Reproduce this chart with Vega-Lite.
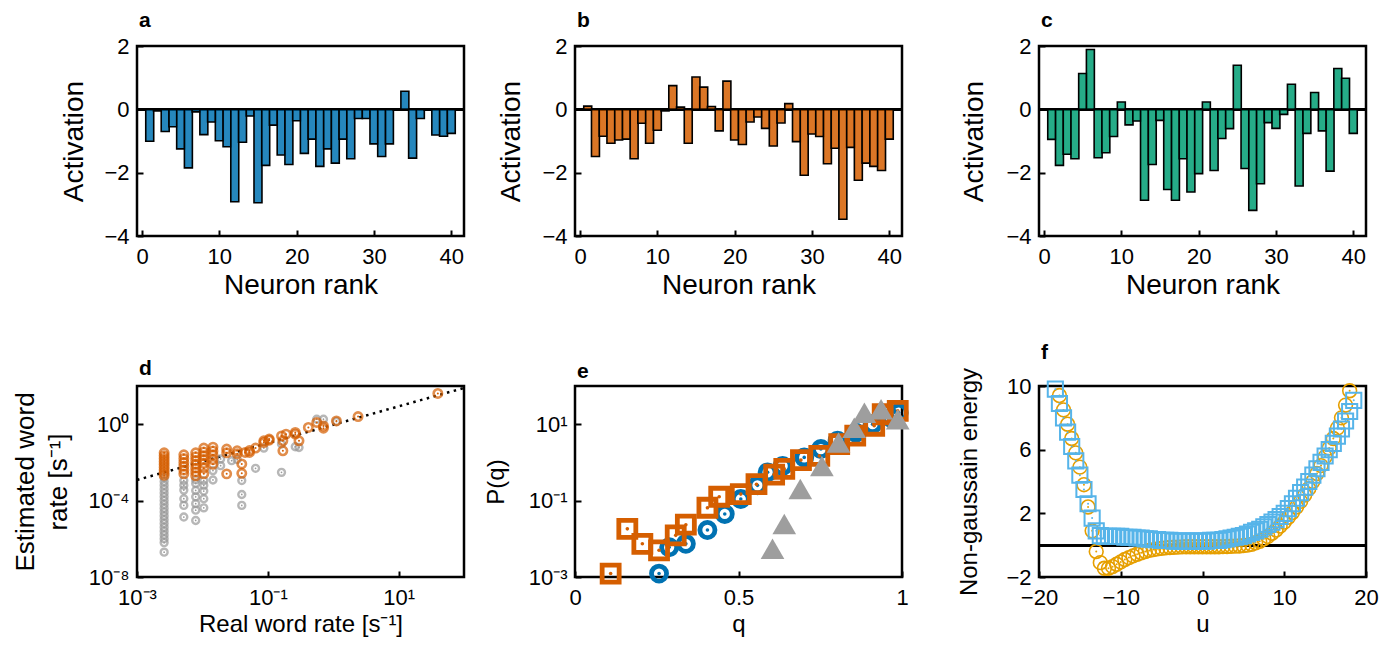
{
  "$schema": "https://vega.github.io/schema/vega-lite/v6.json",
  "padding": {"left": 10, "top": 8, "right": 5, "bottom": 5},
  "background": "white",
  "config": {
    "font": "Liberation Sans",
    "view": {"stroke": "black", "strokeWidth": 2.5},
    "axis": {"grid": false, "domain": false, "tickColor": "black", "tickWidth": 2, "tickSize": -6, "labelFontSize": 22, "labelColor": "black", "titleFontSize": 24, "titleFontWeight": "normal", "titleColor": "black", "labelFlush": false, "labelOverlap": false, "titleBaseline": "middle"},
    "axisX": {"labelPadding": 16, "titleY": 47},
    "axisY": {"labelPadding": 14},
    "title": {"fontSize": 21, "fontWeight": "bold", "anchor": "start", "frame": "group", "color": "black", "offset": 0, "dx": 2}
  },
  "datasets": {
    "barsA": [
      {"rank": 1, "activation": -1.01}, {"rank": 2, "activation": -0.05}, {"rank": 3, "activation": -0.70}, {"rank": 4, "activation": -0.55}, {"rank": 5, "activation": -1.25},
      {"rank": 6, "activation": -1.85}, {"rank": 7, "activation": -0.08}, {"rank": 8, "activation": -0.80}, {"rank": 9, "activation": -0.40}, {"rank": 10, "activation": -0.99},
      {"rank": 11, "activation": -1.18}, {"rank": 12, "activation": -2.92}, {"rank": 13, "activation": -1.04}, {"rank": 14, "activation": -0.21}, {"rank": 15, "activation": -2.95},
      {"rank": 16, "activation": -1.77}, {"rank": 17, "activation": -0.50}, {"rank": 18, "activation": -1.44}, {"rank": 19, "activation": -1.74}, {"rank": 20, "activation": -0.36},
      {"rank": 21, "activation": -1.39}, {"rank": 22, "activation": -0.94}, {"rank": 23, "activation": -1.80}, {"rank": 24, "activation": -1.25}, {"rank": 25, "activation": -1.70},
      {"rank": 26, "activation": -0.94}, {"rank": 27, "activation": -1.56}, {"rank": 28, "activation": -0.29}, {"rank": 29, "activation": -0.29}, {"rank": 30, "activation": -1.09},
      {"rank": 31, "activation": -1.49}, {"rank": 32, "activation": -1.09}, {"rank": 33, "activation": -0.02}, {"rank": 34, "activation": 0.57}, {"rank": 35, "activation": -1.54},
      {"rank": 36, "activation": -0.29}, {"rank": 37, "activation": -0.02}, {"rank": 38, "activation": -0.81}, {"rank": 39, "activation": -0.85}, {"rank": 40, "activation": -0.76}
    ],
    "barsB": [
      {"rank": 1, "activation": 0.10}, {"rank": 2, "activation": -1.49}, {"rank": 3, "activation": -0.85}, {"rank": 4, "activation": -1.07}, {"rank": 5, "activation": -0.97},
      {"rank": 6, "activation": -0.94}, {"rank": 7, "activation": -1.56}, {"rank": 8, "activation": -0.44}, {"rank": 9, "activation": -1.07}, {"rank": 10, "activation": -0.66},
      {"rank": 11, "activation": -0.05}, {"rank": 12, "activation": 0.75}, {"rank": 13, "activation": 0.07}, {"rank": 14, "activation": -1.07}, {"rank": 15, "activation": 1.02},
      {"rank": 16, "activation": 0.70}, {"rank": 17, "activation": 0.09}, {"rank": 18, "activation": -0.68}, {"rank": 19, "activation": 0.89}, {"rank": 20, "activation": -0.97},
      {"rank": 21, "activation": -1.11}, {"rank": 22, "activation": -0.40}, {"rank": 23, "activation": -0.24}, {"rank": 24, "activation": -0.60}, {"rank": 25, "activation": -1.16},
      {"rank": 26, "activation": -0.43}, {"rank": 27, "activation": 0.18}, {"rank": 28, "activation": -1.02}, {"rank": 29, "activation": -2.08}, {"rank": 30, "activation": -0.78},
      {"rank": 31, "activation": -0.86}, {"rank": 32, "activation": -1.72}, {"rank": 33, "activation": -1.23}, {"rank": 34, "activation": -3.47}, {"rank": 35, "activation": -1.20},
      {"rank": 36, "activation": -2.24}, {"rank": 37, "activation": -1.70}, {"rank": 38, "activation": -1.80}, {"rank": 39, "activation": -1.93}, {"rank": 40, "activation": -0.94}
    ],
    "barsC": [
      {"rank": 1, "activation": -0.95}, {"rank": 2, "activation": -1.77}, {"rank": 3, "activation": -1.42}, {"rank": 4, "activation": -1.56}, {"rank": 5, "activation": 1.13},
      {"rank": 6, "activation": 1.89}, {"rank": 7, "activation": -1.53}, {"rank": 8, "activation": -1.37}, {"rank": 9, "activation": -0.86}, {"rank": 10, "activation": 0.23},
      {"rank": 11, "activation": -0.49}, {"rank": 12, "activation": -0.37}, {"rank": 13, "activation": -2.87}, {"rank": 14, "activation": -1.74}, {"rank": 15, "activation": -0.35},
      {"rank": 16, "activation": -2.53}, {"rank": 17, "activation": -2.87}, {"rank": 18, "activation": -1.56}, {"rank": 19, "activation": -2.61}, {"rank": 20, "activation": -2.03},
      {"rank": 21, "activation": 0.23}, {"rank": 22, "activation": -1.93}, {"rank": 23, "activation": -0.92}, {"rank": 24, "activation": -0.61}, {"rank": 25, "activation": 1.39},
      {"rank": 26, "activation": -1.87}, {"rank": 27, "activation": -3.19}, {"rank": 28, "activation": -2.35}, {"rank": 29, "activation": -0.42}, {"rank": 30, "activation": -0.60},
      {"rank": 31, "activation": -0.16}, {"rank": 32, "activation": 0.79}, {"rank": 33, "activation": -2.42}, {"rank": 34, "activation": -0.76}, {"rank": 35, "activation": 0.53},
      {"rank": 36, "activation": -0.68}, {"rank": 37, "activation": -1.95}, {"rank": 38, "activation": 1.29}, {"rank": 39, "activation": 0.98}, {"rank": 40, "activation": -0.76}
    ],
    "diag": [{"real": 0.001, "estimated": 0.0012}, {"real": 100, "estimated": 79}],
    "words": [
      {"real": 0.0026, "estimated": 1.58e-3, "group": "all"}, {"real": 0.0026, "estimated": 1.0e-3, "group": "all"}, {"real": 0.0026, "estimated": 6.31e-4, "group": "all"},
      {"real": 0.0026, "estimated": 3.98e-4, "group": "all"}, {"real": 0.0026, "estimated": 2.51e-4, "group": "all"}, {"real": 0.0026, "estimated": 1.58e-4, "group": "all"},
      {"real": 0.0026, "estimated": 1.0e-4, "group": "all"}, {"real": 0.0026, "estimated": 6.31e-5, "group": "all"}, {"real": 0.0026, "estimated": 3.98e-5, "group": "all"},
      {"real": 0.0026, "estimated": 2.51e-5, "group": "all"}, {"real": 0.0026, "estimated": 1.58e-5, "group": "all"}, {"real": 0.0026, "estimated": 1.0e-5, "group": "all"},
      {"real": 0.0026, "estimated": 6.31e-6, "group": "all"}, {"real": 0.0026, "estimated": 3.98e-6, "group": "all"}, {"real": 0.0026, "estimated": 2.51e-6, "group": "all"},
      {"real": 0.0026, "estimated": 1.58e-6, "group": "all"}, {"real": 0.0026, "estimated": 1.0e-6, "group": "all"}, {"real": 0.0026, "estimated": 6.31e-7, "group": "all"},
      {"real": 0.0026, "estimated": 2.0e-7, "group": "all"},
      {"real": 0.0052, "estimated": 1.12e-3, "group": "all"}, {"real": 0.0052, "estimated": 6.31e-4, "group": "all"}, {"real": 0.0052, "estimated": 3.55e-4, "group": "all"},
      {"real": 0.0052, "estimated": 1.26e-4, "group": "all"}, {"real": 0.0052, "estimated": 5.62e-5, "group": "all"}, {"real": 0.0052, "estimated": 1.38e-5, "group": "all"},
      {"real": 0.0079, "estimated": 1.26e-3, "group": "all"}, {"real": 0.0079, "estimated": 7.94e-4, "group": "all"}, {"real": 0.0079, "estimated": 3.39e-4, "group": "all"},
      {"real": 0.0079, "estimated": 1.58e-4, "group": "all"}, {"real": 0.0079, "estimated": 6.92e-5, "group": "all"}, {"real": 0.0079, "estimated": 3.16e-5, "group": "all"},
      {"real": 0.0079, "estimated": 9.12e-6, "group": "all"},
      {"real": 0.0105, "estimated": 1.12e-3, "group": "all"}, {"real": 0.0105, "estimated": 6.31e-4, "group": "all"}, {"real": 0.0105, "estimated": 3.16e-4, "group": "all"},
      {"real": 0.0105, "estimated": 1.26e-4, "group": "all"}, {"real": 0.0105, "estimated": 4.17e-5, "group": "all"},
      {"real": 0.0145, "estimated": 3.72e-3, "group": "all"}, {"real": 0.0145, "estimated": 1.2e-3, "group": "all"},
      {"real": 0.019, "estimated": 1.51e-2, "group": "all"}, {"real": 0.019, "estimated": 6.76e-3, "group": "all"},
      {"real": 0.028, "estimated": 1.23e-2, "group": "all"}, {"real": 0.034, "estimated": 1.41e-2, "group": "all"},
      {"real": 0.040, "estimated": 1.12e-3, "group": "all"}, {"real": 0.040, "estimated": 2.09e-4, "group": "all"}, {"real": 0.040, "estimated": 5.62e-5, "group": "all"},
      {"real": 0.065, "estimated": 4.9e-3, "group": "all"}, {"real": 0.087, "estimated": 5.62e-2, "group": "all"},
      {"real": 0.162, "estimated": 3.02e-3, "group": "all"}, {"real": 0.162, "estimated": 9.12e-2, "group": "all"},
      {"real": 0.263, "estimated": 6.61e-2, "group": "all"}, {"real": 0.30, "estimated": 6.03e-2, "group": "all"},
      {"real": 0.56, "estimated": 1.82, "group": "all"}, {"real": 0.71, "estimated": 1.82, "group": "all"}, {"real": 1.12, "estimated": 1.38, "group": "all"},
      {"real": 0.0026, "estimated": 3.16e-2, "group": "selected"}, {"real": 0.0026, "estimated": 2.24e-2, "group": "selected"}, {"real": 0.0026, "estimated": 1.58e-2, "group": "selected"},
      {"real": 0.0026, "estimated": 1.12e-2, "group": "selected"}, {"real": 0.0026, "estimated": 7.94e-3, "group": "selected"}, {"real": 0.0026, "estimated": 5.62e-3, "group": "selected"},
      {"real": 0.0026, "estimated": 3.98e-3, "group": "selected"}, {"real": 0.0026, "estimated": 2.82e-3, "group": "selected"}, {"real": 0.0026, "estimated": 2.09e-3, "group": "selected"},
      {"real": 0.0052, "estimated": 2.51e-2, "group": "selected"}, {"real": 0.0052, "estimated": 1.58e-2, "group": "selected"}, {"real": 0.0052, "estimated": 1.0e-2, "group": "selected"},
      {"real": 0.0052, "estimated": 6.31e-3, "group": "selected"}, {"real": 0.0052, "estimated": 3.98e-3, "group": "selected"}, {"real": 0.0052, "estimated": 2.51e-3, "group": "selected"},
      {"real": 0.0079, "estimated": 3.16e-2, "group": "selected"}, {"real": 0.0079, "estimated": 2.0e-2, "group": "selected"}, {"real": 0.0079, "estimated": 1.26e-2, "group": "selected"},
      {"real": 0.0079, "estimated": 7.94e-3, "group": "selected"}, {"real": 0.0079, "estimated": 5.01e-3, "group": "selected"}, {"real": 0.0079, "estimated": 3.16e-3, "group": "selected"},
      {"real": 0.0079, "estimated": 2.0e-3, "group": "selected"},
      {"real": 0.0105, "estimated": 5.62e-2, "group": "selected"}, {"real": 0.0105, "estimated": 3.55e-2, "group": "selected"}, {"real": 0.0105, "estimated": 2.24e-2, "group": "selected"},
      {"real": 0.0105, "estimated": 1.41e-2, "group": "selected"}, {"real": 0.0105, "estimated": 8.91e-3, "group": "selected"}, {"real": 0.0105, "estimated": 5.01e-3, "group": "selected"},
      {"real": 0.0105, "estimated": 2.51e-3, "group": "selected"},
      {"real": 0.0145, "estimated": 6.31e-2, "group": "selected"}, {"real": 0.0145, "estimated": 3.98e-2, "group": "selected"}, {"real": 0.0145, "estimated": 2.51e-2, "group": "selected"},
      {"real": 0.0145, "estimated": 1.41e-2, "group": "selected"}, {"real": 0.0145, "estimated": 7.94e-3, "group": "selected"},
      {"real": 0.0235, "estimated": 5.01e-2, "group": "selected"}, {"real": 0.0235, "estimated": 3.16e-2, "group": "selected"}, {"real": 0.0235, "estimated": 2.51e-3, "group": "selected"},
      {"real": 0.034, "estimated": 4.07e-2, "group": "selected"}, {"real": 0.034, "estimated": 2.82e-2, "group": "selected"},
      {"real": 0.040, "estimated": 8.32e-3, "group": "selected"}, {"real": 0.040, "estimated": 2.69e-3, "group": "selected"},
      {"real": 0.045, "estimated": 3.31e-2, "group": "selected"}, {"real": 0.0525, "estimated": 3.31e-2, "group": "selected"}, {"real": 0.0525, "estimated": 4.17e-2, "group": "selected"},
      {"real": 0.065, "estimated": 5.62e-2, "group": "selected"},
      {"real": 0.087, "estimated": 0.135, "group": "selected"}, {"real": 0.087, "estimated": 0.110, "group": "selected"},
      {"real": 0.105, "estimated": 0.166, "group": "selected"}, {"real": 0.105, "estimated": 0.145, "group": "selected"},
      {"real": 0.162, "estimated": 0.245, "group": "selected"}, {"real": 0.17, "estimated": 4.07e-2, "group": "selected"}, {"real": 0.17, "estimated": 0.135, "group": "selected"},
      {"real": 0.19, "estimated": 0.302, "group": "selected"},
      {"real": 0.263, "estimated": 0.372, "group": "selected"}, {"real": 0.263, "estimated": 0.302, "group": "selected"}, {"real": 0.30, "estimated": 0.135, "group": "selected"},
      {"real": 0.417, "estimated": 0.676, "group": "selected"}, {"real": 0.56, "estimated": 1.23, "group": "selected"},
      {"real": 0.71, "estimated": 0.813, "group": "selected"}, {"real": 0.71, "estimated": 0.617, "group": "selected"},
      {"real": 1.12, "estimated": 1.48, "group": "selected"}, {"real": 2.4, "estimated": 2.51, "group": "selected"}, {"real": 39.8, "estimated": 40.7, "group": "selected"}
    ],
    "overlap": [
      {"q": 0.257, "P": 1.23e-3, "series": "circle"}, {"q": 0.288, "P": 6.0e-3, "series": "circle"}, {"q": 0.339, "P": 7.4e-3, "series": "circle"},
      {"q": 0.405, "P": 1.7e-2, "series": "circle"}, {"q": 0.458, "P": 4.47e-2, "series": "circle"}, {"q": 0.507, "P": 0.11, "series": "circle"},
      {"q": 0.558, "P": 0.251, "series": "circle"}, {"q": 0.589, "P": 0.55, "series": "circle"}, {"q": 0.635, "P": 0.81, "series": "circle"},
      {"q": 0.701, "P": 1.35, "series": "circle"}, {"q": 0.752, "P": 2.24, "series": "circle"}, {"q": 0.803, "P": 3.72, "series": "circle"},
      {"q": 0.859, "P": 6.0, "series": "circle"}, {"q": 0.910, "P": 10.0, "series": "circle"}, {"q": 0.966, "P": 14.8, "series": "circle"},
      {"q": 0.990, "P": 20.0, "series": "circle"},
      {"q": 0.109, "P": 1.23e-3, "series": "square"}, {"q": 0.160, "P": 1.82e-2, "series": "square"}, {"q": 0.206, "P": 7.4e-3, "series": "square"},
      {"q": 0.257, "P": 5.0e-3, "series": "square"}, {"q": 0.308, "P": 1.23e-2, "series": "square"}, {"q": 0.339, "P": 2.34e-2, "series": "square"},
      {"q": 0.405, "P": 6.5e-2, "series": "square"}, {"q": 0.441, "P": 0.126, "series": "square"}, {"q": 0.507, "P": 0.148, "series": "square"},
      {"q": 0.555, "P": 0.269, "series": "square"}, {"q": 0.609, "P": 0.479, "series": "square"}, {"q": 0.640, "P": 0.676, "series": "square"},
      {"q": 0.691, "P": 1.15, "series": "square"}, {"q": 0.747, "P": 1.48, "series": "square"}, {"q": 0.808, "P": 3.02, "series": "square"},
      {"q": 0.857, "P": 5.01, "series": "square"}, {"q": 0.915, "P": 9.12, "series": "square"}, {"q": 0.941, "P": 18.2, "series": "square"},
      {"q": 0.987, "P": 22.4, "series": "square"},
      {"q": 0.604, "P": 5.5e-3, "series": "triangle"}, {"q": 0.640, "P": 2.45e-2, "series": "triangle"}, {"q": 0.689, "P": 0.2, "series": "triangle"},
      {"q": 0.755, "P": 0.81, "series": "triangle"}, {"q": 0.806, "P": 3.3, "series": "triangle"}, {"q": 0.854, "P": 8.1, "series": "triangle"},
      {"q": 0.885, "P": 20.0, "series": "triangle"}, {"q": 0.936, "P": 24.5, "series": "triangle"}, {"q": 0.987, "P": 13.5, "series": "triangle"}
    ],
    "energy": [
      {"u": -17.5, "energy": 9.4, "series": "circle"}, {"u": -17, "energy": 8.5, "series": "circle"}, {"u": -16.5, "energy": 7.6, "series": "circle"},
      {"u": -16, "energy": 6.7, "series": "circle"}, {"u": -15.5, "energy": 5.8, "series": "circle"}, {"u": -15, "energy": 4.9, "series": "circle"},
      {"u": -14.5, "energy": 3.8, "series": "circle"}, {"u": -14, "energy": 2.4, "series": "circle"}, {"u": -13.5, "energy": 0.9, "series": "circle"},
      {"u": -13, "energy": -0.4, "series": "circle"}, {"u": -12.5, "energy": -1.1, "series": "circle"}, {"u": -12, "energy": -1.45, "series": "circle"},
      {"u": -11.5, "energy": -1.45, "series": "circle"}, {"u": -11, "energy": -1.35, "series": "circle"}, {"u": -10.5, "energy": -1.2, "series": "circle"},
      {"u": -10, "energy": -1.05, "series": "circle"}, {"u": -9.5, "energy": -0.9, "series": "circle"}, {"u": -9, "energy": -0.78, "series": "circle"},
      {"u": -8.5, "energy": -0.67, "series": "circle"}, {"u": -8, "energy": -0.57, "series": "circle"}, {"u": -7.5, "energy": -0.48, "series": "circle"},
      {"u": -7, "energy": -0.4, "series": "circle"}, {"u": -6.5, "energy": -0.33, "series": "circle"}, {"u": -6, "energy": -0.28, "series": "circle"},
      {"u": -5.5, "energy": -0.23, "series": "circle"}, {"u": -5, "energy": -0.2, "series": "circle"}, {"u": -4.5, "energy": -0.17, "series": "circle"},
      {"u": -4, "energy": -0.15, "series": "circle"}, {"u": -3.5, "energy": -0.13, "series": "circle"}, {"u": -3, "energy": -0.12, "series": "circle"},
      {"u": -2.5, "energy": -0.11, "series": "circle"}, {"u": -2, "energy": -0.1, "series": "circle"}, {"u": -1.5, "energy": -0.1, "series": "circle"},
      {"u": -1, "energy": -0.1, "series": "circle"}, {"u": -0.5, "energy": -0.1, "series": "circle"}, {"u": 0, "energy": -0.1, "series": "circle"},
      {"u": 0.5, "energy": -0.1, "series": "circle"}, {"u": 1, "energy": -0.1, "series": "circle"}, {"u": 1.5, "energy": -0.1, "series": "circle"},
      {"u": 2, "energy": -0.1, "series": "circle"}, {"u": 2.5, "energy": -0.09, "series": "circle"}, {"u": 3, "energy": -0.08, "series": "circle"},
      {"u": 3.5, "energy": -0.07, "series": "circle"}, {"u": 4, "energy": -0.06, "series": "circle"}, {"u": 4.5, "energy": -0.05, "series": "circle"},
      {"u": 5, "energy": -0.03, "series": "circle"}, {"u": 5.5, "energy": 0.0, "series": "circle"}, {"u": 6, "energy": 0.05, "series": "circle"},
      {"u": 6.5, "energy": 0.15, "series": "circle"}, {"u": 7, "energy": 0.25, "series": "circle"}, {"u": 7.5, "energy": 0.4, "series": "circle"},
      {"u": 8, "energy": 0.55, "series": "circle"}, {"u": 8.5, "energy": 0.75, "series": "circle"}, {"u": 9, "energy": 0.95, "series": "circle"},
      {"u": 9.5, "energy": 1.2, "series": "circle"}, {"u": 10, "energy": 1.45, "series": "circle"}, {"u": 10.5, "energy": 1.75, "series": "circle"},
      {"u": 11, "energy": 2.05, "series": "circle"}, {"u": 11.5, "energy": 2.4, "series": "circle"}, {"u": 12, "energy": 2.75, "series": "circle"},
      {"u": 12.5, "energy": 3.15, "series": "circle"}, {"u": 13, "energy": 3.55, "series": "circle"}, {"u": 13.5, "energy": 4.0, "series": "circle"},
      {"u": 14, "energy": 4.5, "series": "circle"}, {"u": 14.5, "energy": 5.0, "series": "circle"}, {"u": 15, "energy": 5.55, "series": "circle"},
      {"u": 15.5, "energy": 6.1, "series": "circle"}, {"u": 16, "energy": 6.7, "series": "circle"}, {"u": 16.5, "energy": 7.35, "series": "circle"},
      {"u": 17, "energy": 8.0, "series": "circle"}, {"u": 17.5, "energy": 8.8, "series": "circle"}, {"u": 18, "energy": 9.7, "series": "circle"},
      {"u": -18, "energy": 9.8, "series": "square"}, {"u": -17.5, "energy": 8.9, "series": "square"}, {"u": -17, "energy": 8.0, "series": "square"},
      {"u": -16.5, "energy": 7.1, "series": "square"}, {"u": -16, "energy": 6.2, "series": "square"}, {"u": -15.5, "energy": 5.3, "series": "square"},
      {"u": -15, "energy": 4.4, "series": "square"}, {"u": -14.5, "energy": 3.5, "series": "square"}, {"u": -14, "energy": 2.6, "series": "square"},
      {"u": -13.5, "energy": 1.7, "series": "square"}, {"u": -13, "energy": 0.9, "series": "square"}, {"u": -12.5, "energy": 0.6, "series": "square"},
      {"u": -12, "energy": 0.55, "series": "square"}, {"u": -11.5, "energy": 0.55, "series": "square"}, {"u": -11, "energy": 0.55, "series": "square"},
      {"u": -10.5, "energy": 0.55, "series": "square"}, {"u": -10, "energy": 0.55, "series": "square"}, {"u": -9.5, "energy": 0.5, "series": "square"},
      {"u": -9, "energy": 0.5, "series": "square"}, {"u": -8.5, "energy": 0.5, "series": "square"}, {"u": -8, "energy": 0.45, "series": "square"},
      {"u": -7.5, "energy": 0.45, "series": "square"}, {"u": -7, "energy": 0.4, "series": "square"}, {"u": -6.5, "energy": 0.4, "series": "square"},
      {"u": -6, "energy": 0.35, "series": "square"}, {"u": -5.5, "energy": 0.35, "series": "square"}, {"u": -5, "energy": 0.3, "series": "square"},
      {"u": -4.5, "energy": 0.3, "series": "square"}, {"u": -4, "energy": 0.3, "series": "square"}, {"u": -3.5, "energy": 0.25, "series": "square"},
      {"u": -3, "energy": 0.25, "series": "square"}, {"u": -2.5, "energy": 0.25, "series": "square"}, {"u": -2, "energy": 0.25, "series": "square"},
      {"u": -1.5, "energy": 0.25, "series": "square"}, {"u": -1, "energy": 0.25, "series": "square"}, {"u": -0.5, "energy": 0.25, "series": "square"},
      {"u": 0, "energy": 0.25, "series": "square"}, {"u": 0.5, "energy": 0.25, "series": "square"}, {"u": 1, "energy": 0.3, "series": "square"},
      {"u": 1.5, "energy": 0.3, "series": "square"}, {"u": 2, "energy": 0.3, "series": "square"}, {"u": 2.5, "energy": 0.35, "series": "square"},
      {"u": 3, "energy": 0.4, "series": "square"}, {"u": 3.5, "energy": 0.45, "series": "square"}, {"u": 4, "energy": 0.5, "series": "square"},
      {"u": 4.5, "energy": 0.55, "series": "square"}, {"u": 5, "energy": 0.6, "series": "square"}, {"u": 5.5, "energy": 0.7, "series": "square"},
      {"u": 6, "energy": 0.8, "series": "square"}, {"u": 6.5, "energy": 0.9, "series": "square"}, {"u": 7, "energy": 1.0, "series": "square"},
      {"u": 7.5, "energy": 1.15, "series": "square"}, {"u": 8, "energy": 1.3, "series": "square"}, {"u": 8.5, "energy": 1.45, "series": "square"},
      {"u": 9, "energy": 1.6, "series": "square"}, {"u": 9.5, "energy": 1.8, "series": "square"}, {"u": 10, "energy": 2.0, "series": "square"},
      {"u": 10.5, "energy": 2.3, "series": "square"}, {"u": 11, "energy": 2.6, "series": "square"}, {"u": 11.5, "energy": 2.95, "series": "square"},
      {"u": 12, "energy": 3.3, "series": "square"}, {"u": 12.5, "energy": 3.65, "series": "square"}, {"u": 13, "energy": 4.0, "series": "square"},
      {"u": 13.5, "energy": 4.4, "series": "square"}, {"u": 14, "energy": 4.8, "series": "square"}, {"u": 14.5, "energy": 5.2, "series": "square"},
      {"u": 15, "energy": 5.6, "series": "square"}, {"u": 15.5, "energy": 6.0, "series": "square"}, {"u": 16, "energy": 6.4, "series": "square"},
      {"u": 16.5, "energy": 6.85, "series": "square"}, {"u": 17, "energy": 7.3, "series": "square"}, {"u": 17.5, "energy": 7.8, "series": "square"},
      {"u": 18, "energy": 8.4, "series": "square"}, {"u": 18.5, "energy": 9.1, "series": "square"}
    ]
  },
  "spacing": 37,
  "hconcat": [
    {
      "columns": 2,
      "bounds": "flush",
      "spacing": {"column": 111, "row": 150},
      "concat": [
        {
          "width": 327, "height": 190,
          "title": {"text": "a"},
          "data": {"name": "barsA"},
          "layer": [
            {"mark": {"type": "rule", "color": "black", "strokeWidth": 2}, "encoding": {"y": {"datum": 0, "type": "quantitative"}}},
            {"mark": {"type": "bar", "width": 7.97, "fill": "#0072B2", "fillOpacity": 0.85, "stroke": "black", "strokeWidth": 1.6},
             "encoding": {
               "x": {"field": "rank", "type": "quantitative", "scale": {"domain": [0, 41], "nice": false}, "axis": {"values": [0, 10, 20, 30, 40], "title": "Neuron rank", "titleFontSize": 28, "titleY": 49}},
               "y": {"field": "activation", "type": "quantitative", "scale": {"domain": [-4, 2], "nice": false}, "axis": {"values": [-4, -2, 0, 2], "title": "Activation", "titleFontSize": 28, "titleX": -63}}
             }}
          ]
        },
        {
          "width": 327, "height": 190,
          "title": {"text": "b"},
          "data": {"name": "barsB"},
          "layer": [
            {"mark": {"type": "rule", "color": "black", "strokeWidth": 2}, "encoding": {"y": {"datum": 0, "type": "quantitative"}}},
            {"mark": {"type": "bar", "width": 7.97, "fill": "#D55E00", "fillOpacity": 0.85, "stroke": "black", "strokeWidth": 1.6},
             "encoding": {
               "x": {"field": "rank", "type": "quantitative", "scale": {"domain": [0, 41], "nice": false}, "axis": {"values": [0, 10, 20, 30, 40], "title": "Neuron rank", "titleFontSize": 28, "titleY": 49}},
               "y": {"field": "activation", "type": "quantitative", "scale": {"domain": [-4, 2], "nice": false}, "axis": {"values": [-4, -2, 0, 2], "title": "Activation", "titleFontSize": 28, "titleX": -64}}
             }}
          ]
        },
        {
          "width": 327, "height": 191,
          "title": {"text": "d"},
          "layer": [
            {"data": {"name": "diag"},
             "mark": {"type": "line", "color": "black", "strokeWidth": 2.5, "strokeDash": [2.5, 4.5]},
             "encoding": {
               "x": {"field": "real", "type": "quantitative", "scale": {"type": "log", "domain": [0.001, 100], "nice": false},
                     "axis": {"values": [0.001, 0.1, 10], "title": "Real word rate [s⁻¹]", "labelExpr": "'10' + (round(log(datum.value)/LN10) < 0 ? '⁻' : '') + ['⁰','¹','²','³','⁴','⁵','⁶','⁷','⁸','⁹'][abs(round(log(datum.value)/LN10))]"}},
               "y": {"field": "estimated", "type": "quantitative", "scale": {"type": "log", "domain": [1e-8, 100], "nice": false},
                     "axis": {"values": [1e-8, 0.0001, 1], "title": ["Estimated word", "rate [s⁻¹]"], "titleFontSize": 26, "titleX": -112, "titleLineHeight": 33, "labelExpr": "'10' + (round(log(datum.value)/LN10) < 0 ? '⁻' : '') + ['⁰','¹','²','³','⁴','⁵','⁶','⁷','⁸','⁹'][abs(round(log(datum.value)/LN10))]"}}
             }},
            {"data": {"name": "words"}, "transform": [{"filter": "datum.group == 'all'"}],
             "mark": {"type": "point", "shape": "circle", "filled": false, "stroke": "#999999", "strokeWidth": 2.4, "size": 48},
             "encoding": {"x": {"field": "real", "type": "quantitative"}, "y": {"field": "estimated", "type": "quantitative"}}},
            {"data": {"name": "words"}, "transform": [{"filter": "datum.group == 'all'"}],
             "mark": {"type": "point", "shape": "circle", "filled": true, "fill": "#999999", "strokeWidth": 0, "opacity": 1, "size": 3},
             "encoding": {"x": {"field": "real", "type": "quantitative"}, "y": {"field": "estimated", "type": "quantitative"}}},
            {"data": {"name": "words"}, "transform": [{"filter": "datum.group == 'selected'"}],
             "mark": {"type": "point", "shape": "circle", "filled": false, "stroke": "#D55E00", "strokeWidth": 2.6, "size": 70},
             "encoding": {"x": {"field": "real", "type": "quantitative"}, "y": {"field": "estimated", "type": "quantitative"}}},
            {"data": {"name": "words"}, "transform": [{"filter": "datum.group == 'selected'"}],
             "mark": {"type": "point", "shape": "circle", "filled": true, "fill": "#D55E00", "strokeWidth": 0, "opacity": 1, "size": 4},
             "encoding": {"x": {"field": "real", "type": "quantitative"}, "y": {"field": "estimated", "type": "quantitative"}}}
          ]
        },
        {
          "width": 327, "height": 191,
          "title": {"text": "e"},
          "data": {"name": "overlap"},
          "encoding": {
            "x": {"field": "q", "type": "quantitative", "scale": {"domain": [0, 1], "nice": false}, "axis": {"values": [0, 0.5, 1], "format": "~g", "title": "q"}},
            "y": {"field": "P", "type": "quantitative", "scale": {"type": "log", "domain": [0.001, 100], "nice": false},
                  "axis": {"values": [0.001, 0.1, 10], "title": "P(q)", "titleX": -79, "labelExpr": "'10' + (round(log(datum.value)/LN10) < 0 ? '⁻' : '') + ['⁰','¹','²','³','⁴','⁵','⁶','⁷','⁸','⁹'][abs(round(log(datum.value)/LN10))]"}}
          },
          "layer": [
            {"transform": [{"filter": "datum.series == 'circle'"}], "mark": {"type": "point", "shape": "circle", "filled": false, "stroke": "#0072B2", "strokeWidth": 4.8, "size": 227, "opacity": 1}},
            {"transform": [{"filter": "datum.series == 'circle'"}], "mark": {"type": "point", "shape": "circle", "filled": true, "fill": "#0072B2", "strokeWidth": 0, "size": 13, "opacity": 1}},
            {"transform": [{"filter": "datum.series == 'square'"}], "mark": {"type": "point", "shape": "square", "filled": false, "stroke": "#D55E00", "strokeWidth": 4.8, "size": 289, "opacity": 1}},
            {"transform": [{"filter": "datum.series == 'square'"}], "mark": {"type": "point", "shape": "circle", "filled": true, "fill": "#D55E00", "strokeWidth": 0, "size": 13, "opacity": 1}},
            {"transform": [{"filter": "datum.series == 'triangle'"}], "mark": {"type": "point", "shape": "triangle-up", "filled": true, "fill": "#9e9e9e", "strokeWidth": 0, "size": 560, "opacity": 1}}
          ]
        }
      ]
    },
    {
      "bounds": "flush",
      "spacing": 150,
      "vconcat": [
        {
          "width": 327, "height": 190,
          "title": {"text": "c"},
          "data": {"name": "barsC"},
          "layer": [
            {"mark": {"type": "rule", "color": "black", "strokeWidth": 2}, "encoding": {"y": {"datum": 0, "type": "quantitative"}}},
            {"mark": {"type": "bar", "width": 7.97, "fill": "#009E73", "fillOpacity": 0.85, "stroke": "black", "strokeWidth": 1.6},
             "encoding": {
               "x": {"field": "rank", "type": "quantitative", "scale": {"domain": [0, 41], "nice": false}, "axis": {"values": [0, 10, 20, 30, 40], "title": "Neuron rank", "titleFontSize": 28, "titleY": 49}},
               "y": {"field": "activation", "type": "quantitative", "scale": {"domain": [-4, 2], "nice": false}, "axis": {"values": [-4, -2, 0, 2], "title": "Activation", "titleFontSize": 28, "titleX": -65}}
             }}
          ]
        },
        {
          "width": 327, "height": 191,
          "title": {"text": "f"},
          "data": {"name": "energy"},
          "encoding": {
            "x": {"field": "u", "type": "quantitative", "scale": {"domain": [-20, 20], "nice": false}, "axis": {"values": [-20, -10, 0, 10, 20], "title": "u"}},
            "y": {"field": "energy", "type": "quantitative", "scale": {"domain": [-2, 10], "nice": false}, "axis": {"values": [-2, 2, 6, 10], "title": "Non-gaussain energy", "titleX": -70}}
          },
          "layer": [
            {"mark": {"type": "rule", "color": "black", "strokeWidth": 2}, "encoding": {"x": null, "y": {"datum": 0, "type": "quantitative"}}},
            {"transform": [{"filter": "datum.series == 'circle'"}], "mark": {"type": "point", "shape": "circle", "filled": false, "stroke": "#E69F00", "strokeWidth": 1.6, "size": 190, "opacity": 1}},
            {"transform": [{"filter": "datum.series == 'circle'"}], "mark": {"type": "point", "shape": "circle", "filled": true, "fill": "#E69F00", "strokeWidth": 0, "size": 4, "opacity": 1}},
            {"transform": [{"filter": "datum.series == 'square'"}], "mark": {"type": "point", "shape": "square", "filled": false, "stroke": "#56B4E9", "strokeWidth": 2, "size": 230, "opacity": 1}},
            {"transform": [{"filter": "datum.series == 'square'"}], "mark": {"type": "point", "shape": "circle", "filled": true, "fill": "#56B4E9", "strokeWidth": 0, "size": 4, "opacity": 1}}
          ]
        }
      ]
    }
  ]
}
